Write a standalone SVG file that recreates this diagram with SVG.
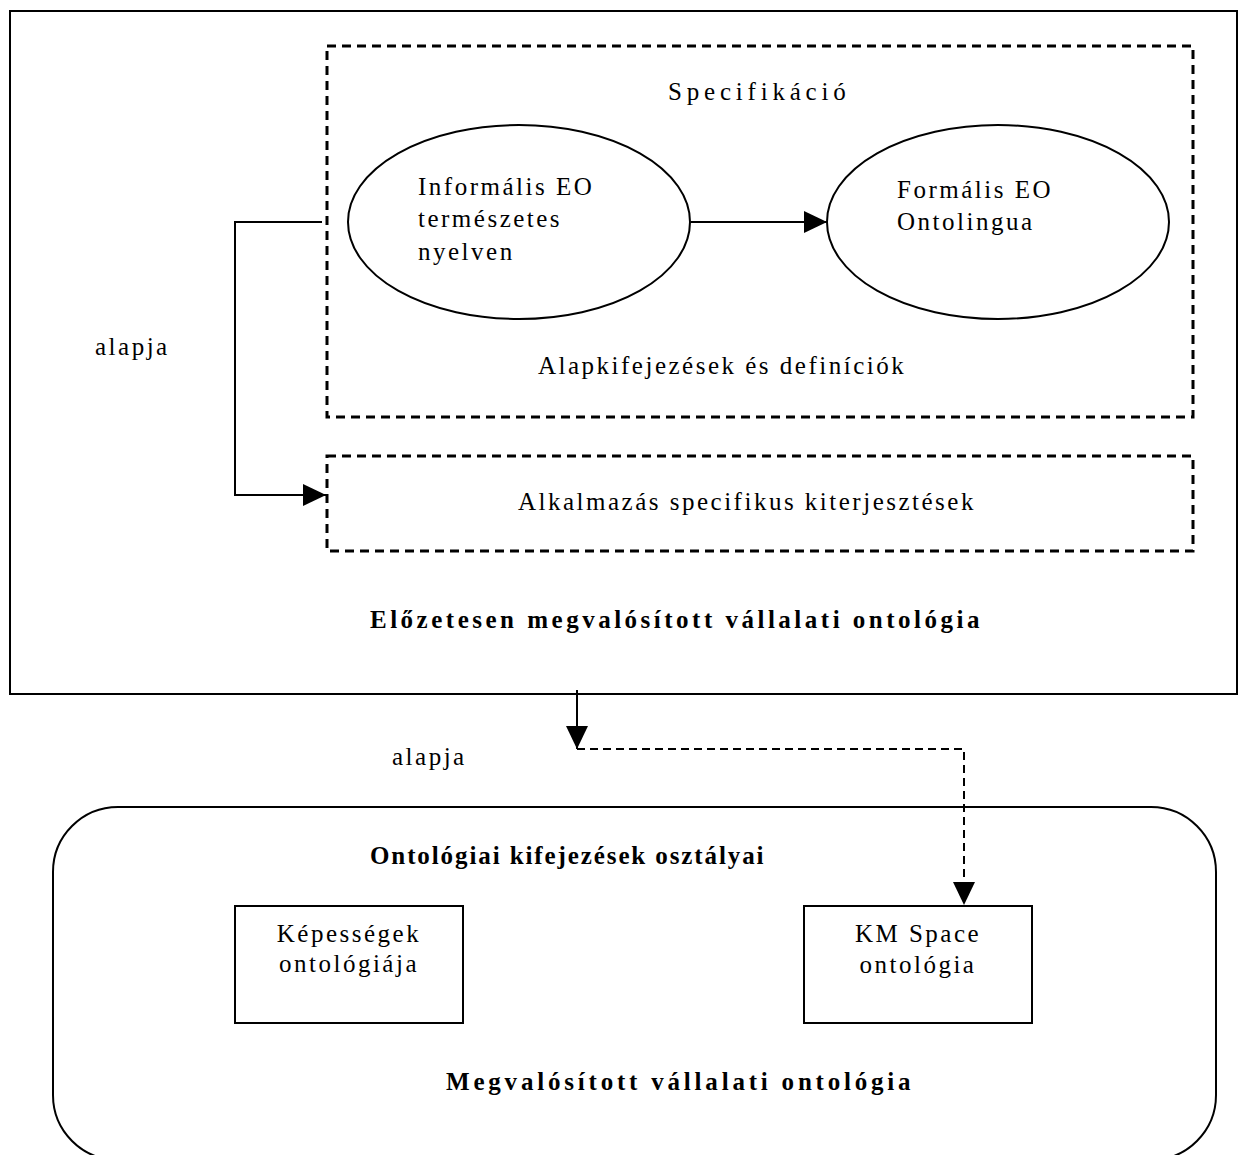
<svg xmlns="http://www.w3.org/2000/svg" width="1244" height="1155" viewBox="0 0 1244 1155">
  <defs>
    <marker id="arrow" markerUnits="userSpaceOnUse" markerWidth="24" markerHeight="24" viewBox="0 0 24 24" refX="23" refY="12" orient="auto">
      <path d="M0,1 L23,12 L0,23 Z" fill="#000"/>
    </marker>
    <style>
      .frame { fill: #fff; stroke: #000; stroke-width: 2; }
      .group { fill: none; stroke: #000; stroke-width: 3; stroke-dasharray: 9 6; }
      .shape { fill: #fff; stroke: #000; stroke-width: 2; }
      .link { fill: none; stroke: #000; stroke-width: 2; }
      .dash { stroke-dasharray: 8 5; }
      text { font-family: "Liberation Serif", "Times New Roman", serif; font-size: 25px; fill: #000; letter-spacing: 2.5px; }
      .b { font-weight: bold; letter-spacing: 3.5px; }
      .c { text-anchor: middle; }
    </style>
  </defs>

  <rect width="1244" height="1155" fill="#fff"/>

  <!-- outer frame: previously implemented enterprise ontology -->
  <g id="eo-frame">
    <rect class="frame" x="10" y="11" width="1227" height="683"/>
    <text class="b" x="370" y="628">Előzetesen megvalósított vállalati ontológia</text>
  </g>

  <!-- specification group -->
  <g id="specification">
    <rect class="group" x="327" y="46" width="866" height="371"/>
    <text x="668" y="100" style="letter-spacing:4.8px">Specifikáció</text>
    <text x="538" y="374">Alapkifejezések és definíciók</text>
  </g>

  <g id="informal-eo">
    <ellipse class="shape" cx="519" cy="222" rx="171" ry="97"/>
    <text x="418" y="195">Informális EO</text>
    <text x="418" y="227">természetes</text>
    <text x="418" y="260">nyelven</text>
  </g>

  <g id="formal-eo">
    <ellipse class="shape" cx="998" cy="222" rx="171" ry="97"/>
    <text x="897" y="198">Formális EO</text>
    <text x="897" y="230">Ontolingua</text>
  </g>

  <g id="extensions">
    <rect class="group" x="327" y="456" width="866" height="95"/>
    <text x="518" y="510">Alkalmazás specifikus kiterjesztések</text>
  </g>

  <!-- lower container: implemented enterprise ontology -->
  <g id="implemented-eo">
    <rect class="shape" x="53" y="807" width="1163" height="353" rx="65" ry="65"/>
    <text class="b" x="370" y="864" style="letter-spacing:1.9px">Ontológiai kifejezések osztályai</text>
    <text class="b" x="446" y="1090" style="letter-spacing:3.8px">Megvalósított vállalati ontológia</text>
  </g>

  <g id="capabilities">
    <rect class="shape" x="235" y="906" width="228" height="117"/>
    <text class="c" x="349" y="942">Képességek</text>
    <text class="c" x="349" y="972">ontológiája</text>
  </g>

  <g id="km-space">
    <rect class="shape" x="804" y="906" width="228" height="117"/>
    <text class="c" x="918" y="942">KM Space</text>
    <text class="c" x="918" y="973">ontológia</text>
  </g>

  <!-- connectors -->
  <g id="connectors">
    <line class="link" x1="691" y1="222" x2="827" y2="222" marker-end="url(#arrow)"/>
    <path class="link" d="M322,222 H235 V495 H326" marker-end="url(#arrow)"/>
    <text x="95" y="355">alapja</text>
    <line class="link" x1="577" y1="690" x2="577" y2="749" marker-end="url(#arrow)"/>
    <path class="link dash" d="M577,749 H964 V905" marker-end="url(#arrow)"/>
    <text x="392" y="765">alapja</text>
  </g>
</svg>
